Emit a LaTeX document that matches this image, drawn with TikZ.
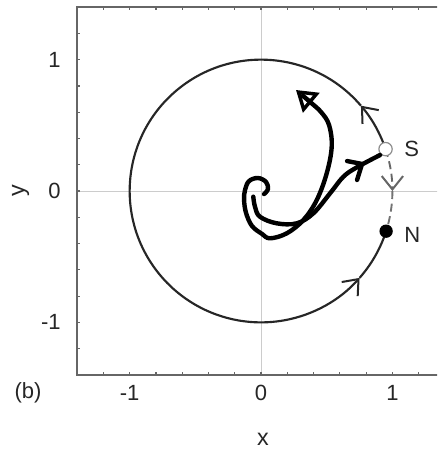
\documentclass[tikz,border=0pt]{standalone}
\usepackage{fontspec}
\setmainfont{Liberation Sans}
\usetikzlibrary{arrows.meta}
\begin{document}
\begin{tikzpicture}[x=98.51pt,y=98.51pt,
  framestyle/.style={draw=black!60, line width=1.5pt},
  tickstyle/.style={draw=black!60, line width=0.9pt},
  gridstyle/.style={draw=black!20, line width=0.6pt},
  orbit/.style={draw=black!85, line width=1.6pt},
  dashorbit/.style={draw=black!55, line width=1.4pt, dash pattern=on 6pt off 3.5pt},
  barb/.style={-{Straight Barb[length=10pt,width=16pt,line width=1.5pt]}},
  lbl/.style={font=\fontsize{16.5}{19}\selectfont, text=black!85, inner sep=0pt},
  hand/.style={draw=black, line width=3.3pt, line cap=round, line join=round},
]
\clip (-1.987,-1.979) rectangle (1.340,1.454);
\fill[white] (-1.987,-1.979) rectangle (1.340,1.454);
% grid
\draw[gridstyle] (0,-1.4) -- (0,1.4);
\draw[gridstyle] (-1.4,0) -- (1.4,0);
% ticks
\foreach \t in {-1.4,-1.2,-1,-0.8,-0.6,-0.4,-0.2,0,0.2,0.4,0.6,0.8,1,1.2,1.4} {
  \draw[tickstyle] (\t,-1.4) -- ++(0,0.025);
  \draw[tickstyle] (\t,1.4) -- ++(0,-0.025);
  \draw[tickstyle] (-1.4,\t) -- ++(0.025,0);
}
\draw[framestyle] (-1.4,-1.4) rectangle (1.4,1.4);
% tick labels
\foreach \v in {-1,0,1} {
  \node[lbl, anchor=east] (yl\v) at (-1.523,\v) {\v};
  \node[lbl] (xl\v) at (\v,-1.538) {\v};
}
\node[lbl] (panel) at (-1.774,-1.538) {(b)};
\node[lbl, font=\fontsize{17.5}{20}\selectfont] (xlab) at (0.015,-1.89) {x};
\node[lbl, font=\fontsize{17.5}{20}\selectfont, rotate=90] (ylab) at (-1.83,0) {y};
% circle orbit
\coordinate (S) at (18.6:1);
\coordinate (N) at (-17.8:1);
\coordinate (A1) at (40.5:1);
\coordinate (A2) at (318.6:1);
\coordinate (A0) at (0:1);
\draw[orbit, barb] (S) arc[start angle=18.6, end angle=40.5, radius=1];
\draw[orbit, barb] (A1) arc[start angle=40.5, end angle=318.6, radius=1];
\draw[orbit] (A2) arc[start angle=318.6, end angle=342.2, radius=1];
\draw[dashorbit, barb, draw=black!60] (S) arc[start angle=18.6, end angle=0, radius=1];
\draw[dashorbit] (A0) arc[start angle=0, end angle=-17.8, radius=1];
\node[circle, fill=white, draw=black!45, line width=0.9pt, minimum size=10pt, inner sep=0pt] (Sdot) at (S) {};
\node[circle, fill=black, minimum size=10pt, inner sep=0pt] (Ndot) at (N) {};
\node[lbl] (Slab) at (1.147,0.32) {S};
\node[lbl] (Nlab) at (1.152,-0.335) {N};
% hand-drawn curves
\draw[hand] plot[smooth, tension=0.6] coordinates {
  (-0.059,-0.043) (-0.046,-0.120) (-0.008,-0.196) (0.120,-0.246) (0.272,-0.246)
  (0.398,-0.170) (0.525,-0.018) (0.627,0.109) (0.729,0.180) (0.906,0.274)};
\draw[hand] (0.655,0.228) -- (0.769,0.206) -- (0.731,0.084);
\draw[hand, -{Triangle[open, length=15pt, width=19pt, line width=2.6pt]}] plot[smooth, tension=0.6] coordinates {
  (0.023,-0.023) (0.053,0.015) (0.038,0.069) (-0.023,0.099) (-0.091,0.076)
  (-0.122,0.008) (-0.129,-0.069) (-0.114,-0.167) (-0.069,-0.266) (0.008,-0.327)
  (0.069,-0.360) (0.196,-0.322) (0.322,-0.221) (0.424,-0.069) (0.500,0.135)
  (0.538,0.338) (0.518,0.502) (0.457,0.601) (0.373,0.678) (0.266,0.769)};
\end{tikzpicture}
\end{document}
